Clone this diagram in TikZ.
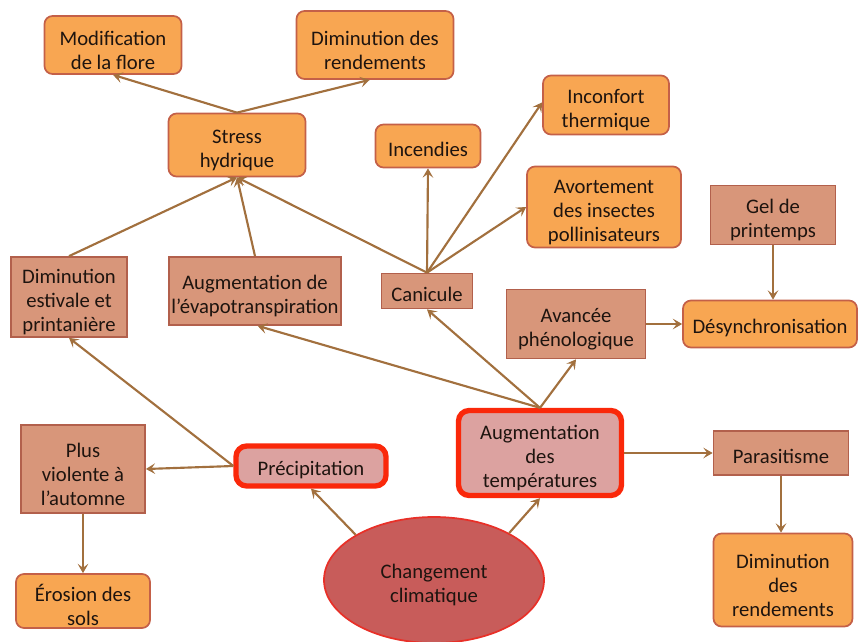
\documentclass[tikz,border=0pt]{standalone}
\usepackage{fontspec}
\setmainfont{Carlito}
\usetikzlibrary{shapes.geometric,arrows.meta}
\definecolor{orF}{RGB}{248,166,82}
\definecolor{orD}{RGB}{196,96,72}
\definecolor{saF}{RGB}{216,150,122}
\definecolor{saD}{RGB}{178,96,76}
\definecolor{piF}{RGB}{220,162,160}
\definecolor{reD}{RGB}{250,40,10}
\definecolor{elF}{RGB}{200,92,90}
\definecolor{elD}{RGB}{232,48,40}
\definecolor{arC}{RGB}{162,112,62}
\definecolor{txC}{RGB}{30,20,15}
\newcommand\myup{\rule{0pt}{18.5pt}}
\tikzset{
  sz/.style 2 args={minimum width=#1*0.75pt, minimum height=#2*0.75pt},
  ob/.style={fill=orF, draw=orD, line width=1.3pt, rounded corners=6pt},
  sb/.style={fill=saF, draw=saD, line width=1.3pt},
  rb/.style={fill=piF, draw=reD, line width=4pt, rounded corners=8pt},
  el/.style={ellipse, fill=elF, draw=elD, line width=1.3pt},
  ar/.style={draw=arC, line width=1.6pt, -{Stealth[length=7pt, width=8pt, inset=3pt]}}
}
\begin{document}
\begin{tikzpicture}[x=0.75pt,y=-0.75pt,
  every node/.style={font=\fontsize{15.5}{18}\selectfont, text=txC, align=center, inner sep=0pt,
    execute at begin node={\rule{0pt}{16pt}}}]
\useasboundingbox (0,0) rectangle (860,642);
\clip (0,0) rectangle (860,642);

\node[ob, sz={137}{58}] (modif) at (113,45) {\myup Modification\\de la flore};
\node[ob, sz={157}{68}] (dimtop) at (375,45) {\myup Diminution des\\rendements};
\node[ob, sz={137}{63}] (stress) at (237,145) {\myup Stress\\hydrique};
\node[ob, sz={105}{43}] (incend) at (428,146) {Incendies};
\node[ob, sz={126}{59}] (inconf) at (606,105) {\myup Inconfort\\thermique};
\node[ob, sz={154}{81}] (avort) at (604,207) {\myup Avortement\\des insectes\\pollinisateurs};
\node[sb, sz={125}{59}] (gel) at (773,215) {\myup Gel de\\printemps};
\node[ob, sz={174}{47}] (desyn) at (770,324) {Désynchronisation};
\node[sb, sz={139}{69}] (avanc) at (576,324) {\myup Avancée\\phénologique};
\node[sb, sz={91}{35}] (canic) at (427,291) {Canicule};
\node[sb, sz={172}{68}] (evapo) at (255,291) {\myup Augmentation de\\l’évapotranspiration};
\node[sb, sz={116}{80}] (dimest) at (69,297) {\myup Diminution\\estivale et\\printanière};
\node[sb, sz={124}{88}] (plusv) at (83,469) {\myup Plus\\violente à\\l’automne};
\node[rb, sz={150}{40}] (precip) at (311,466) {Précipitation};
\node[rb, sz={163}{85}] (temp) at (540,453) {\myup Augmentation\\des\\températures};
\node[sb, sz={135}{44}] (paras) at (781,453) {Parasitisme};
\node[ob, sz={139}{93}] (dimbot) at (783,580) {\myup Diminution\\des\\rendements};
\node[ob, sz={134}{54}] (eros) at (83,601) {\myup Érosion des\\sols};
\node[el, sz={220}{126}] (chg) at (434,580) {\myup Changement\\climatique};

\draw[ar] (stress.north) -- (modif.south);
\draw[ar] (stress.north) -- ([xshift=-4pt]dimtop.south);
\draw[ar] (dimest.north) -- (stress.south);
\draw[ar] (evapo.north) -- (stress.south);
\draw[ar] (canic.north) -- (stress.south);
\draw[ar] (canic.north) -- (incend.south);
\draw[ar] (canic.north) -- ([yshift=2pt]inconf.west);
\draw[ar] (canic.north) -- (avort.west);
\draw[ar] (gel.south) -- (gel.south |- desyn.north);
\draw[ar] (avanc.east) -- (desyn.west);
\draw[ar] (temp.north) -- (canic.south);
\draw[ar] (temp.north) -- ([xshift=2pt]evapo.south);
\draw[ar] (temp.north) -- (avanc.south);
\draw[ar] (temp.east) -- (paras.west);
\draw[ar] (paras.south) -- (dimbot.north -| paras.south);
\draw[ar] (precip.west) -- (plusv.east);
\draw[ar] (precip.west) -- (dimest.south);
\draw[ar] (plusv.south) -- (eros.north);
\draw[ar] (chg.150) -- (precip.south);
\draw[ar] (chg.32) -- (temp.south);
\end{tikzpicture}
\end{document}
